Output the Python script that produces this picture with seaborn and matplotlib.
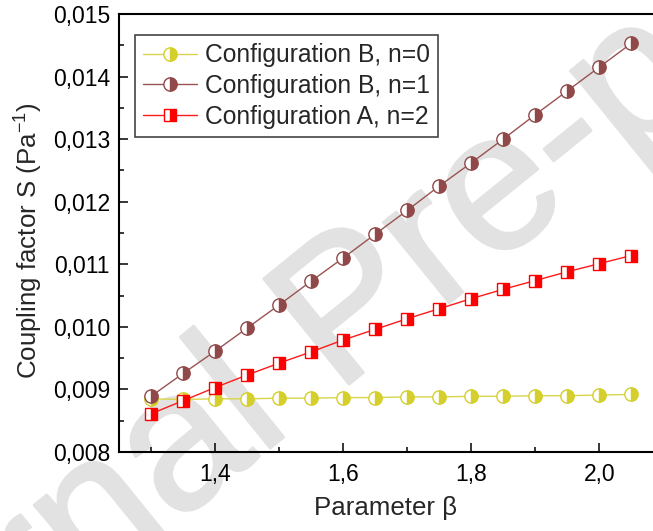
import numpy as np
import pandas as pd
import matplotlib
matplotlib.use("Agg")
import matplotlib.pyplot as plt
import matplotlib.patheffects as pe
from matplotlib.ticker import MultipleLocator, FuncFormatter
import seaborn as sns

# ---- data ----
beta = [1.30, 1.35, 1.40, 1.45, 1.50, 1.55, 1.60, 1.65,
        1.70, 1.75, 1.80, 1.85, 1.90, 1.95, 2.00, 2.05]
config_b_n0 = [0.00885, 0.00884, 0.00885, 0.00885, 0.00886, 0.00886, 0.00887, 0.00887,
               0.00888, 0.00888, 0.00889, 0.00889, 0.00890, 0.00890, 0.00891, 0.00892]
config_b_n1 = [0.00889, 0.009255, 0.00961, 0.00998, 0.01035, 0.01073, 0.01110, 0.01148,
               0.01186, 0.01225, 0.01262, 0.01300, 0.01339, 0.01377, 0.01415, 0.01453]
config_a_n2 = [0.00861, 0.00882, 0.00903, 0.00923, 0.00942, 0.00960, 0.00979, 0.00996,
               0.01013, 0.01029, 0.01045, 0.01060, 0.01074, 0.01088, 0.01101, 0.01114]
labels = ["Configuration B, n=0", "Configuration B, n=1", "Configuration A, n=2"]
x_ticks = [1.4, 1.6, 1.8, 2.0]
y_ticks = [0.008, 0.009, 0.010, 0.011, 0.012, 0.013, 0.014, 0.015]

sns.set_style("ticks")
plt.rcParams["font.family"] = ["Liberation Sans", "DejaVu Sans"]
plt.rcParams["mathtext.default"] = "regular"

W, H = 653, 531
fig = plt.figure(figsize=(W / 100, H / 100), dpi=100)
left, right, top, bottom = 119, 653, 14, 452
ax = fig.add_axes([left / W, 1 - bottom / H, (right - left) / W, (bottom - top) / H])

series = [
    (config_b_n0, "#d4cf2a", "#d8d44e", "o", 9.6),
    (config_b_n1, "#904848", "#9a5252", "o", 9.6),
    (config_a_n2, "#ff0000", "#ff1a1a", "s", 8.6),
]
for (vals, mcol, lcol, mk, ms), lab in zip(series, labels):
    df = pd.DataFrame({"beta": beta, "S": vals})
    sns.lineplot(data=df, x="beta", y="S", ax=ax, color=lcol, linewidth=1.0,
                 marker=mk, markersize=ms, fillstyle="right",
                 markerfacecolor=mcol, markerfacecoloralt="white",
                 markeredgecolor=mcol, markeredgewidth=1.0, label=lab, legend=False)

# watermark
ax.text(351 / W, 1 - 317 / H, "Journal Pre-proof", transform=fig.transFigure,
        fontsize=142, color="#e2e2e2", rotation=39, rotation_mode="anchor",
        ha="center", va="center", zorder=0, clip_on=False,
        path_effects=[pe.withStroke(linewidth=2, foreground="#e2e2e2")])

ax.set_xlim(1.25, 2.084)
ax.set_ylim(0.008, 0.015)
ax.set_xticks(x_ticks)
ax.set_yticks(y_ticks)
ax.xaxis.set_minor_locator(MultipleLocator(0.1))
ax.yaxis.set_minor_locator(MultipleLocator(0.0005))
ax.xaxis.set_major_formatter(FuncFormatter(lambda v, p: f"{v:.1f}".replace(".", ",")))
ax.yaxis.set_major_formatter(FuncFormatter(lambda v, p: f"{v:.3f}".replace(".", ",")))
ax.tick_params(which="both", direction="in", width=1.1, labelsize=16.5, colors="black")
ax.tick_params(which="major", length=6.5)
ax.tick_params(which="minor", length=3.6)
ax.tick_params(axis="x", pad=8)
ax.tick_params(axis="y", pad=6.5)

for s in ["left", "bottom", "top"]:
    ax.spines[s].set_linewidth(1.5)
    ax.spines[s].set_color("black")
ax.spines["right"].set_visible(False)

ax.set_xlabel("Parameter β", fontsize=18.6, labelpad=7)
ax.set_ylabel("Coupling factor S (Pa$^{-1}$)", fontsize=18.6)
ax.yaxis.set_label_coords(-0.138, 0.482)

leg = ax.legend(loc="upper left", bbox_to_anchor=(135 / W, 1 - 35 / H),
                bbox_transform=fig.transFigure, borderaxespad=0, fontsize=17.7,
                frameon=True, fancybox=False, framealpha=1, edgecolor="#444444",
                handlelength=2.2, handletextpad=0.33, labelspacing=0.28,
                borderpad=0.33)
leg.get_frame().set_linewidth(1.2)

fig.savefig("out.png", dpi=100)
